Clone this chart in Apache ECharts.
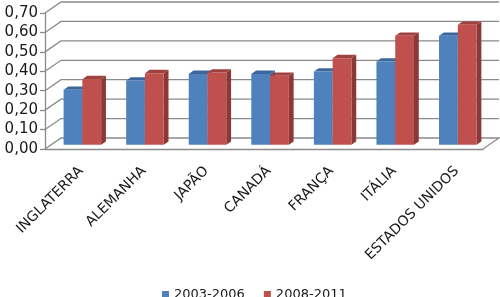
<!DOCTYPE html>
<html>
<head>
<meta charset="utf-8">
<script src="https://cdn.jsdelivr.net/npm/echarts@6/dist/echarts.min.js"></script>
<style>
  html, body { margin: 0; padding: 0; background: #fff; }
  #chart { width: 500px; height: 297px; }
</style>
</head>
<body>
<div id="chart"></div>
<script>
var categories = ['INGLATERRA', 'ALEMANHA', 'JAPÃO', 'CANADÁ', 'FRANÇA', 'ITÁLIA', 'ESTADOS UNIDOS']
var serie2003 = [0.283, 0.331, 0.365, 0.365, 0.377, 0.429, 0.561]
var serie2008 = [0.338, 0.369, 0.372, 0.355, 0.446, 0.561, 0.618]
var yTicks = [0, 0.1, 0.2, 0.3, 0.4, 0.5, 0.6, 0.7]

// 3d look: depth of the back wall and where the bars stand
var depth = [16, -11]
var barShift = 0.38
var barDepth = 0.3

var chart = echarts.init(document.getElementById('chart'))

function bar3d(slot, front, top, side) {
  return function (params, api) {
    var cat = api.value(0)
    var topPt = api.coord([cat, api.value(1)])
    var basePt = api.coord([cat, 0])
    var w = api.size([1, 0])[0] * 0.3
    var sx = depth[0] * barShift
    var sy = depth[1] * barShift
    var dx = depth[0] * barDepth
    var dy = depth[1] * barDepth
    var x0 = topPt[0] - w + slot * w + sx
    var x1 = x0 + w
    var y0 = topPt[1] + sy
    var y1 = basePt[1] + sy
    return {
      type: 'group',
      children: [
        { type: 'polygon', shape: { points: [[x1, y0], [x1 + dx, y0 + dy], [x1 + dx, y1 + dy], [x1, y1]] }, style: { fill: side } },
        { type: 'polygon', shape: { points: [[x0, y0], [x0 + dx, y0 + dy], [x1 + dx, y0 + dy], [x1, y0]] }, style: { fill: top } },
        { type: 'rect', shape: { x: x0, y: y0, width: w, height: y1 - y0 }, style: { fill: front } }
      ]
    }
  }
}

function toPairs(arr) {
  return arr.map(function (v, i) { return [i, v] })
}

chart.setOption({
  animation: false,
  textStyle: { fontFamily: 'DejaVu Sans' },
  grid: [
    { left: 45, right: 17, top: 13, bottom: 148 },
    // second grid only carries the category labels, nudged like excel does
    { left: 50, right: 12, top: 13, bottom: 148 }
  ],
  legend: {
    data: ['2003-2006', '2008-2011'],
    left: 157,
    top: 283,
    icon: 'rect',
    itemWidth: 7,
    itemHeight: 7,
    itemGap: 19,
    textStyle: { fontSize: 13, color: '#1a1a1a', fontFamily: 'DejaVu Sans' }
  },
  xAxis: [
    {
      type: 'category',
      gridIndex: 0,
      data: categories,
      axisLine: { lineStyle: { color: '#8a8a8a', width: 1.3 } },
      axisTick: { length: 5, lineStyle: { color: '#8a8a8a', width: 1.3 } },
      axisLabel: { show: false }
    },
    {
      type: 'category',
      gridIndex: 1,
      data: categories,
      axisLine: { show: false },
      axisTick: { show: false },
      axisLabel: { rotate: 45, margin: 20, fontSize: 14, color: '#1a1a1a', interval: 0 }
    }
  ],
  yAxis: [
    {
      type: 'value',
      gridIndex: 0,
      min: 0,
      max: 0.7,
      interval: 0.1,
      axisLine: { show: true, lineStyle: { color: '#8a8a8a', width: 1.3 } },
      axisTick: { show: true, length: 5, lineStyle: { color: '#8a8a8a', width: 1.3 } },
      axisLabel: {
        margin: 7,
        fontSize: 15,
        color: '#1a1a1a',
        formatter: function (v) { return v.toFixed(2).replace('.', ',') }
      },
      splitLine: { show: false }
    },
    {
      type: 'value',
      gridIndex: 1,
      min: 0,
      max: 0.7,
      interval: 0.1,
      show: false
    }
  ],
  series: [
    {
      name: '2003-2006',
      type: 'custom',
      z: 3,
      itemStyle: { color: '#4F81BD' },
      encode: { x: 0, y: 1 },
      renderItem: bar3d(0, '#4F81BD', '#3C679A', '#385D8A'),
      data: toPairs(serie2003)
    },
    {
      name: '2008-2011',
      type: 'custom',
      z: 4,
      itemStyle: { color: '#C0504D' },
      encode: { x: 0, y: 1 },
      renderItem: bar3d(1, '#C0504D', '#9E413F', '#8C3836'),
      data: toPairs(serie2008)
    },
    {
      name: 'wall',
      type: 'custom',
      z: 1,
      silent: true,
      encode: { x: 0, y: 1 },
      renderItem: function (params, api) {
        var cs = params.coordSys
        var v = api.value(1)
        var y = api.coord([0, v])[1]
        var left = cs.x
        var right = cs.x + cs.width
        var pts = [[left, y], [left + depth[0], y + depth[1]], [right + depth[0], y + depth[1]]]
        if (v === 0) pts.push([right, y])
        return {
          type: 'polyline',
          shape: { points: pts },
          style: { stroke: '#8a8a8a', lineWidth: 1.3, fill: null }
        }
      },
      data: toPairs(yTicks).map(function (p) { return [0, p[1]] })
    }
  ]
})
</script>
</body>
</html>
